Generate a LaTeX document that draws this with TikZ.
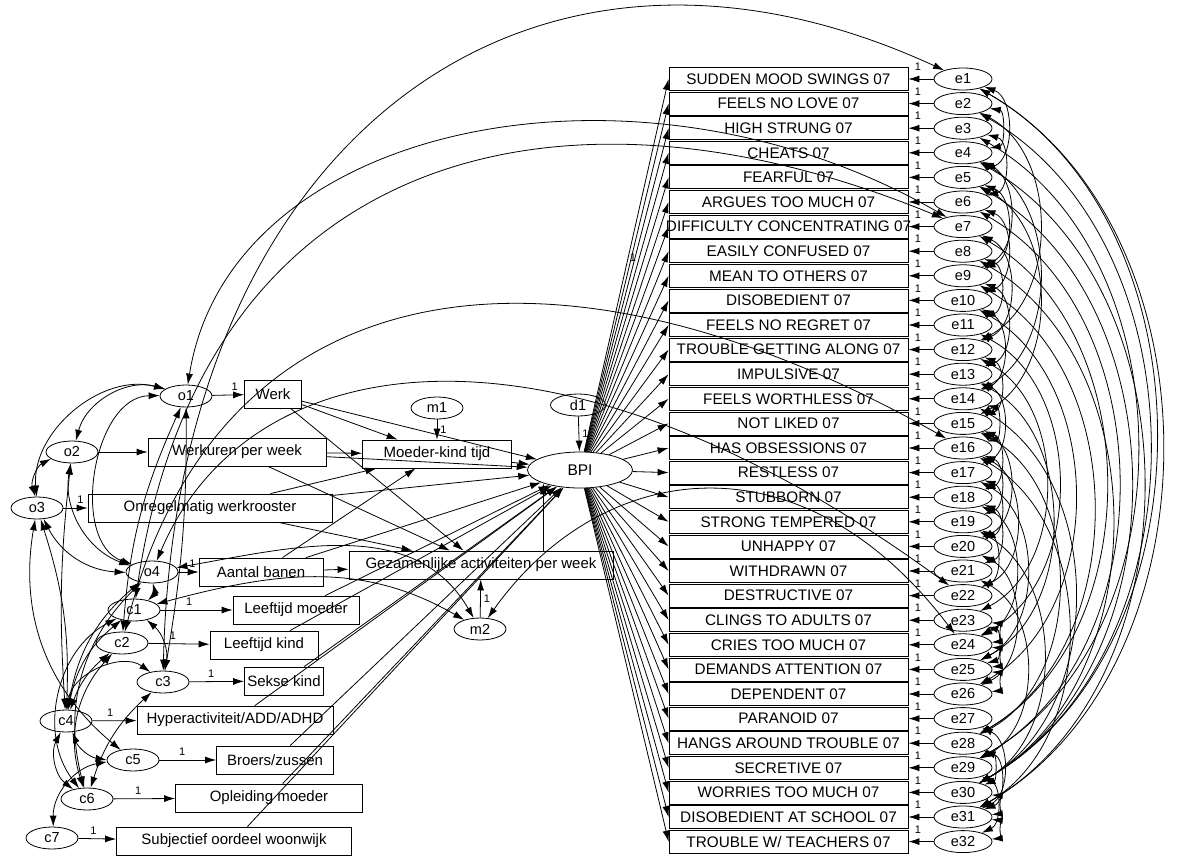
\documentclass[tikz,border=0pt]{standalone}
\usepackage{fontspec}
\setmainfont{Liberation Sans}
\usetikzlibrary{arrows.meta,shapes.geometric}

\begin{document}
\begin{tikzpicture}[
	x=1pt, y=-1pt, line width=0.8pt,
	>={Latex[length=11pt,width=7pt]},
	latent/.style={draw, ellipse, inner sep=0pt, minimum width=52pt, minimum height=22pt, font=\fontsize{14.5}{16}\selectfont},
	obs/.style={draw, rectangle, inner sep=0pt, minimum height=28pt, font=\fontsize{15}{17}\selectfont},
	item/.style={draw, rectangle, inner sep=0pt, minimum width=239pt, minimum height=23pt, font=\fontsize{15.3}{17}\selectfont},
	reg/.style={->},
	cov/.style={<->},
	one/.style={font=\fontsize{11}{12}\selectfont, inner sep=0pt}
]
\useasboundingbox (0,0) rectangle (1186,861);

% latent variables on the left
\node[latent] (o1) at (186,396) {o1};
\node[latent] (o2) at (72,452) {o2};
\node[latent] (o3) at (37,508) {o3};
\node[latent] (o4) at (152,572) {o4};
\node[latent] (c1) at (134,610) {c1};
\node[latent] (c2) at (122,643) {c2};
\node[latent] (c3) at (163,682) {c3};
\node[latent] (c4) at (66,721) {c4};
\node[latent] (c5) at (133,760) {c5};
\node[latent] (c6) at (87,799) {c6};
\node[latent] (c7) at (52,838) {c7};

% observed predictors
\node[obs, minimum width=57pt] (werk) at (273,394) {Werk};
\node[obs, minimum width=178pt] (werkuren) at (237,452) {Werkuren per week};
\node[obs, minimum width=244pt] (onregel) at (210,508) {Onregelmatig werkrooster};
\node[obs, minimum width=124pt] (banen) at (261,572) {Aantal banen};
\node[obs, minimum width=126pt] (lmoeder) at (296,610) {Leeftijd moeder};
\node[obs, minimum width=108pt] (lkind) at (264,645) {Leeftijd kind};
\node[obs, minimum width=79pt] (sekse) at (284,681) {Sekse kind};
\node[obs, minimum width=196pt] (hyper) at (235,720) {Hyperactiviteit/ADD/ADHD};
\node[obs, minimum width=117pt] (broers) at (275,760) {Broers/zussen};
\node[obs, minimum width=187pt] (opleiding) at (269,798) {Opleiding moeder};
\node[obs, minimum width=235pt] (woonwijk) at (234,841) {Subjectief oordeel woonwijk};

% mediators and outcome
\node[obs, minimum width=149pt] (mk) at (437,454) {Moeder-kind tijd};
\node[obs, minimum width=264pt] (ga) at (481,565) {Gezamenlijke activiteiten per week};
\node[latent] (m1) at (437,408) {m1};
\node[latent] (m2) at (480,629) {m2};
\node[latent, minimum width=55pt] (d1) at (578,405) {d1};
\node[latent, minimum width=105pt, minimum height=36pt, font=\fontsize{15.5}{17}\selectfont] (BPI) at (580,470) {BPI};

% BPI items with their errors
\foreach \i/\txt in {1/{SUDDEN MOOD SWINGS 07}, 2/{FEELS NO LOVE 07}, 3/{HIGH STRUNG 07},
	4/{CHEATS 07}, 5/{FEARFUL 07}, 6/{ARGUES TOO MUCH 07}, 7/{DIFFICULTY CONCENTRATING 07},
	8/{EASILY CONFUSED 07}, 9/{MEAN TO OTHERS 07}, 10/{DISOBEDIENT 07}, 11/{FEELS NO REGRET 07},
	12/{TROUBLE GETTING ALONG 07}, 13/{IMPULSIVE 07}, 14/{FEELS WORTHLESS 07}, 15/{NOT LIKED 07},
	16/{HAS OBSESSIONS 07}, 17/{RESTLESS 07}, 18/{STUBBORN 07}, 19/{STRONG TEMPERED 07},
	20/{UNHAPPY 07}, 21/{WITHDRAWN 07}, 22/{DESTRUCTIVE 07}, 23/{CLINGS TO ADULTS 07},
	24/{CRIES TOO MUCH 07}, 25/{DEMANDS ATTENTION 07}, 26/{DEPENDENT 07}, 27/{PARANOID 07},
	28/{HANGS AROUND TROUBLE 07}, 29/{SECRETIVE 07}, 30/{WORRIES TOO MUCH 07},
	31/{DISOBEDIENT AT SCHOOL 07}, 32/{TROUBLE W/ TEACHERS 07}} {
	\pgfmathsetmacro\yy{79+(\i-1)*24.6}
	\node[item] (item\i) at (788.5,\yy) {\makebox[239pt]{\txt}};
	\node[latent, minimum width=58pt] (e\i) at (963,\yy) {e\i};
	\draw[reg] (e\i) -- (item\i);
	\node[one] at (918,\yy-12) {1};
	\draw[reg] (BPI) -- (item\i.west);
}
\node[one] at (633,258) {1};

% measurement paths
\draw[reg] (o1) -- node[one, above=4pt, pos=0.7] {1} (werk);
\draw[reg] (o2) -- (werkuren);
\draw[reg] (o3) -- node[one, above=4pt, pos=0.7] {1} (onregel);
\draw[reg] (o4) -- node[one, above=4pt, pos=0.7] {1} (banen);
\draw[reg] (c1) -- node[one, above=4pt, pos=0.4] {1} (lmoeder);
\draw[reg] (c2) -- node[one, above=4pt, pos=0.4] {1} (lkind);
\draw[reg] (c3) -- node[one, above=4pt, pos=0.4] {1} (sekse);
\draw[reg] (c4) -- node[one, above=4pt, pos=0.4] {1} (hyper);
\draw[reg] (c5) -- node[one, above=4pt, pos=0.4] {1} (broers);
\draw[reg] (c6) -- node[one, above=4pt, pos=0.4] {1} (opleiding);
\draw[reg] (c7) -- node[one, above=4pt, pos=0.4] {1} (woonwijk);

% structural paths
\foreach \b in {werk,werkuren,onregel,banen}{
	\draw[reg] (\b) -- (mk);
	\draw[reg] (\b) -- (ga);
}
\foreach \b in {werk,werkuren,onregel,banen,lmoeder,lkind,sekse,hyper,broers,opleiding,woonwijk,mk}
	\draw[reg] (\b) -- (BPI);
\draw[reg] (ga.north -| BPI.200) -- (BPI.200);
\draw[reg] (m1) -- node[one, right=3pt] {1} (mk);
\draw[reg] (m2) -- node[one, right=3pt] {1} (ga);
\draw[reg] (d1) -- node[one, right=3pt] {1} (BPI);

% covariances among the exogenous variables
\draw[cov] (o1) to[bend right=45] (o2);
\draw[cov] (o1) to[bend right=55] (o3);
\draw[cov] (o2) to[bend right=40] (o3);
\draw[cov] (o1) to[bend right=80] (o4);
\draw[cov] (o2) to[bend right=40] (o4);
\draw[cov] (o3) to[bend right=30] (o4);
\draw[cov] (o2) to[bend right=5] (c4);
\draw[cov] (o3) to[bend left=10] (c4);
\draw[cov] (o1) to[bend left=5] (c3);
\draw[cov] (o1) to[bend right=10] (c2);
\draw[cov] (o4) to[bend left=30] (c1);
\draw[cov] (o4) to[bend right=20] (c4);
\draw[cov] (o4) to[bend right=30] (c6);
\draw[cov] (c1) to[bend right=20] (c4);
\draw[cov] (c2) to[bend right=15] (c4);
\draw[cov] (c3) to[bend right=60] (c4);
\draw[cov] (c1) to[bend left=30] (c3);
\draw[cov] (c2) to[bend right=30] (c6);
\draw[cov] (c4) to[bend right=30] (c5);
\draw[cov] (c4) to[bend right=40] (c6);
\draw[cov] (c3) to[bend right=15] (c6);
\draw[cov] (c5) to[bend right=40] (c7);
\draw[cov] (c1) to[bend right=50] (c6);
\draw[cov] (c5) to[bend left=30] (o3);
\draw[cov] (o4) to[out=10, in=120] (m2);
\draw[cov] (c1) to[out=15, in=150] (m2);

% long covariances to the item errors
\draw[cov] (c3) .. controls (175,150) and (520,-125) .. (e1);
\draw[cov] (o1) .. controls (230,120) and (640,40) .. (e7);
\draw[cov] (c1) .. controls (200,150) and (560,60) .. (e7);
\draw[cov] (c2) .. controls (220,260) and (560,220) .. (e16);
\draw[cov] (o4) .. controls (250,340) and (560,300) .. (e22);
\draw[cov] (m2) .. controls (600,460) and (800,430) .. (e24);

% covariances among the item errors
\foreach \a/\b/\k in {1/5/70, 2/4/80, 4/9/65, 3/6/75, 5/9/70, 6/10/70, 7/12/65, 8/11/70,
	9/13/70, 10/14/65, 12/15/70, 13/17/65, 14/16/75, 15/18/70, 16/19/70, 17/20/70, 18/21/70,
	19/22/65, 23/24/85, 24/25/85, 23/25/75, 25/26/85, 27/31/65, 28/30/70, 29/32/65, 30/31/85,
	31/32/85, 28/31/70, 1/30/60, 1/31/60, 2/30/60, 3/29/60, 4/31/60, 5/30/60, 6/29/60, 7/28/60,
	8/30/60, 9/28/60, 10/26/60, 11/24/62, 12/23/62, 13/25/62, 14/30/60, 15/28/62, 16/31/60,
	17/25/62, 18/24/64, 19/30/60, 20/26/64, 21/29/62, 15/20/65, 16/22/65, 5/15/62, 4/14/62, 2/12/62}
	\draw[cov] (e\a) to[bend left=\k] (e\b);

\end{tikzpicture}
\end{document}
